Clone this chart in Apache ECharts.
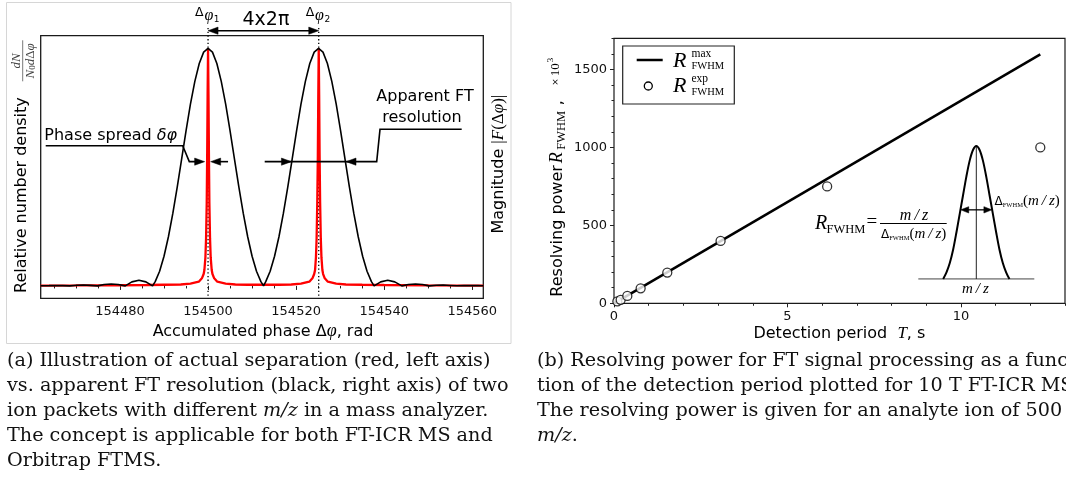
<!DOCTYPE html>
<html>
<head>
<meta charset="utf-8">
<title>FT resolution</title>
<script src="https://cdn.jsdelivr.net/npm/echarts@6.0.0/dist/echarts.min.js"></script>
<style>
html,body{margin:0;padding:0;background:#ffffff;}
#main{width:1066px;height:503px;}
</style>
</head>
<body>
<div id="main"></div>
<script>
// ---------------- Panel (a) data ----------------
const phaseTickLabels = [154480, 154500, 154520, 154540, 154560];
const phaseMinorTicks = [154465,154470,154475,154480,154485,154490,154495,154500,154505,154510,
  154515,154520,154525,154530,154535,154540,154545,154550,154555,154560];
const peakPhases = [154500, 154525.13];
// black curve: apparent FT magnitude |F(dphi)| (right axis)
const magnitudeFT = [
  [154462.0,0.001],[154463.9,0.0015],[154465.4,0.002],[154467.0,0.0015],[154468.6,0.0003],
  [154470.2,0.003],[154471.7,0.0037],[154473.3,0.0025],[154474.9,0.0003],[154476.4,0.006],
  [154478.0,0.008],[154479.6,0.006],[154481.2,0.0003],[154482.7,0.017],[154484.3,0.024],
  [154485.9,0.017],[154487.4,0.0],
  [154488,0.018],[154489,0.062],[154490,0.125],[154491,0.207],[154492,0.305],[154493,0.416],
  [154494,0.534],[154495,0.653],[154496,0.765],[154497,0.861],[154498,0.936],[154499,0.984],
  [154500,1.0],[154501,0.984],[154502,0.936],[154503,0.861],[154504,0.765],[154505,0.653],
  [154506,0.534],[154507,0.416],[154508,0.305],[154509,0.207],[154510,0.125],[154511,0.062],
  [154512,0.018],[154512.6,0.0],
  [154513.1,0.018],[154514.1,0.062],[154515.1,0.125],[154516.1,0.207],[154517.1,0.305],
  [154518.1,0.416],[154519.1,0.534],[154520.1,0.653],[154521.1,0.765],[154522.1,0.861],
  [154523.1,0.936],[154524.1,0.984],[154525.1,1.0],[154526.1,0.984],[154527.1,0.936],
  [154528.1,0.861],[154529.1,0.765],[154530.1,0.653],[154531.1,0.534],[154532.1,0.416],
  [154533.1,0.305],[154534.1,0.207],[154535.1,0.125],[154536.1,0.062],[154537.1,0.018],
  [154537.7,0.0],
  [154539.2,0.017],[154540.8,0.024],[154542.4,0.017],[154544.0,0.0003],[154545.5,0.006],
  [154547.1,0.008],[154548.7,0.006],[154550.2,0.0003],[154551.8,0.003],[154553.4,0.0037],
  [154555.0,0.002],[154556.5,0.0005],[154558.1,0.0015],[154559.7,0.002],[154561.3,0.0015],
  [154562.5,0.0005]
];
// red curve: relative number density (left axis)
const numberDensity = [
  [154462,0.0015],[154470,0.002],[154480,0.003],[154486,0.004],[154490,0.005],[154493.8,0.006],
  [154496,0.01],[154497.9,0.018],[154498.6,0.032],[154499.0,0.05],[154499.17,0.067],
  [154499.4,0.12],[154499.55,0.2],[154499.7,0.35],[154499.8,0.55],[154499.9,0.8],[154500,1.0],
  [154500.1,0.8],[154500.2,0.55],[154500.3,0.35],[154500.45,0.2],[154500.6,0.12],
  [154500.83,0.067],[154501.0,0.05],[154501.4,0.032],[154502.1,0.018],[154504,0.01],
  [154506.2,0.006],[154509,0.005],[154512.5,0.005],[154516.1,0.005],[154518.9,0.006],
  [154521.1,0.01],[154523.0,0.018],[154523.7,0.032],[154524.1,0.05],[154524.3,0.067],
  [154524.5,0.12],[154524.65,0.2],[154524.8,0.35],[154524.93,0.55],[154525.03,0.8],[154525.13,1.0],
  [154525.23,0.8],[154525.33,0.55],[154525.45,0.35],[154525.6,0.2],[154525.75,0.12],
  [154525.96,0.067],[154526.13,0.05],[154526.5,0.032],[154527.2,0.018],[154529.1,0.01],
  [154531.3,0.006],[154535,0.005],[154540,0.004],[154550,0.0025],[154562.5,0.0015]
];

// ---------------- Panel (b) data ----------------
const periodTickLabels = [0, 5, 10];
const periodMinorTicks = [0,1,2,3,4,5,6,7,8,9,10,11,12,13];
const powerTickLabels = [0, 500, 1000, 1500];
const powerMinorTicks = [0,100,200,300,400,500,600,700,800,900,1000,1100,1200,1300,1400,1500,1600,1700];
const rMaxPeriod = [0, 12.288];
const rMaxPower = [0, 1597];
const rExpPeriod = [0.096, 0.192, 0.384, 0.768, 1.536, 3.072, 6.144, 12.288];
const rExpPower = [12, 22, 47, 96, 197, 400, 750, 1000];
// inset peak sketch
const insetX = [-1,-0.9,-0.8,-0.7,-0.6,-0.5,-0.4,-0.3,-0.2,-0.1,0,0.1,0.2,0.3,0.4,0.5,0.6,0.7,0.8,0.9,1];
const insetY = [0,0.05,0.12,0.22,0.35,0.49,0.63,0.77,0.89,0.97,1,0.97,0.89,0.77,0.63,0.49,0.35,0.22,0.12,0.05,0];
const insetBase = [-1.75, 1.75];

// ---------------- Captions ----------------
const captionA = [
  '(a) Illustration of actual separation (red, left axis)',
  'vs. apparent FT resolution (black, right axis) of two',
  'ion packets with different {i|m/z} in a mass analyzer.',
  'The concept is applicable for both FT-ICR MS and',
  'Orbitrap FTMS.'
];
const captionB = [
  '(b) Resolving power for FT signal processing as a func-',
  'tion of the detection period plotted for 10 T FT-ICR MS.',
  'The resolving power is given for an analyte ion of 500',
  '{i|m/z}.'
];

const SANS = 'DejaVu Sans';
const SERIF = 'Liberation Serif';
const CAPF = 'DejaVu Serif';
const TICKC = '#222';

function tickAxis(gi, min, max, values, len, withLabels, pos) {
  return {
    type: 'value', gridIndex: gi, min: min, max: max, position: pos,
    axisLine: {show: false}, splitLine: {show: false},
    axisTick: {show: true, customValues: values, length: len, lineStyle: {color: TICKC, width: 1}},
    axisLabel: withLabels ? {show: true, customValues: values, fontFamily: SANS, fontSize: 13, color: '#111', margin: 7,
                             formatter: function (v) { return String(v); }}
                          : {show: false}
  };
}

const chart = echarts.init(document.getElementById('main'), null, {renderer: 'canvas'});

const option = {
  animation: false,
  backgroundColor: '#ffffff',
  grid: [
    {left: 40.7, top: 35.7, width: 442.6, height: 262.6, show: true, borderColor: '#1a1a1a', borderWidth: 1.3, backgroundColor: 'transparent'},
    {left: 614, top: 38.3, width: 451, height: 265, show: true, borderColor: '#1a1a1a', borderWidth: 1.2, backgroundColor: 'transparent'},
    {left: 918.3, top: 146, width: 116, height: 133, show: false}
  ],
  xAxis: [
    tickAxis(0, 154462, 154562.5, phaseTickLabels, 4, true, 'bottom'),
    tickAxis(0, 154462, 154562.5, phaseMinorTicks, 2.5, false, 'bottom'),
    tickAxis(1, 0, 13, periodTickLabels, 4, true, 'bottom'),
    tickAxis(1, 0, 13, periodMinorTicks, 2.5, false, 'bottom'),
    {type: 'value', gridIndex: 2, min: -1.75, max: 1.75, show: false}
  ],
  yAxis: [
    {type: 'value', gridIndex: 0, min: -0.052, max: 1.053, show: false, position: 'left'},
    {type: 'value', gridIndex: 0, min: -0.052, max: 1.053, show: false, position: 'right'},
    tickAxis(1, 0, 1700, powerTickLabels, 4, true, 'left'),
    tickAxis(1, 0, 1700, powerMinorTicks, 2.5, false, 'left'),
    {type: 'value', gridIndex: 2, min: 0, max: 1, show: false}
  ],
  series: [
    {type: 'line', name: 'density', xAxisIndex: 0, yAxisIndex: 0, data: numberDensity, showSymbol: false,
     lineStyle: {color: '#ff0000', width: 2.3}, z: 4, silent: true},
    {type: 'line', name: 'magnitude', xAxisIndex: 0, yAxisIndex: 1, data: magnitudeFT, showSymbol: false,
     lineStyle: {color: '#000000', width: 1.6}, z: 5, silent: true},
    {type: 'line', name: 'Rmax', xAxisIndex: 2, yAxisIndex: 2,
     data: rMaxPeriod.map((t, i) => [t, rMaxPower[i]]), showSymbol: false,
     lineStyle: {color: '#000000', width: 2.5}, z: 4, silent: true},
    {type: 'scatter', name: 'Rexp', xAxisIndex: 2, yAxisIndex: 2,
     data: rExpPeriod.map((t, i) => [t, rExpPower[i]]), symbol: 'circle', symbolSize: 9, clip: false,
     itemStyle: {color: '#ffffff', borderColor: '#000000', borderWidth: 1.3}, z: 6, silent: true},
    {type: 'line', name: 'insetPeak', xAxisIndex: 4, yAxisIndex: 4,
     data: insetX.map((x, i) => [x, insetY[i]]), showSymbol: false, smooth: 0.3,
     lineStyle: {color: '#000000', width: 2}, z: 5, silent: true},
    {type: 'line', name: 'insetBase', xAxisIndex: 4, yAxisIndex: 4,
     data: insetBase.map(x => [x, 0]), showSymbol: false,
     lineStyle: {color: '#707070', width: 1.5}, z: 4, silent: true},
    {type: 'line', name: 'insetCenter', xAxisIndex: 4, yAxisIndex: 4,
     data: [[0, 0], [0, 1]], showSymbol: false,
     lineStyle: {color: '#222222', width: 1}, z: 4, silent: true}
  ]
};
chart.setOption(option);

// ---------------- annotations ----------------
function T(x, y, text, st, extra) {
  return Object.assign({type: 'text', x: x, y: y, z: 20, silent: true,
    style: Object.assign({text: text, fill: '#000', fontFamily: SANS, fontSize: 16, align: 'left', verticalAlign: 'middle'}, st || {})},
    extra || {});
}
function L(pts, lw, st) {
  return {type: 'polyline', z: 20, silent: true, shape: {points: pts},
    style: Object.assign({stroke: '#000', lineWidth: lw || 1.6, fill: null}, st || {})};
}
function head(tx, ty, dir, len, hw) {
  len = len || 10; hw = hw || 3.6;
  return {type: 'polygon', z: 21, silent: true,
    shape: {points: [[tx, ty], [tx - dir * len, ty - hw], [tx - dir * len, ty + hw]]},
    style: {fill: '#000', stroke: '#000', lineWidth: 0.5}};
}
const P = (xi, yi, v) => chart.convertToPixel({xAxisIndex: xi, yAxisIndex: yi}, v);

const G = [];
// panel (a) frame
G.push({type: 'rect', z: 0, silent: true, shape: {x: 6.5, y: 2.5, width: 504.5, height: 341},
  style: {fill: null, stroke: '#d6d6d6', lineWidth: 1}});

const x1 = P(0, 1, [peakPhases[0], 0])[0];
const x2 = P(0, 1, [peakPhases[1], 0])[0];
const yBottom = P(0, 1, [peakPhases[0], -0.052])[1];
const yHalf = P(0, 1, [peakPhases[0], 0.523])[1];
const halfL = P(0, 1, [peakPhases[1] - 6.2, 0])[0];
const halfR = P(0, 1, [peakPhases[1] + 6.2, 0])[0];

// dotted peak markers
[x1, x2].forEach(function (x) {
  G.push({type: 'line', z: 1, silent: true, shape: {x1: x, y1: 28, x2: x, y2: yBottom},
    style: {stroke: '#000', lineWidth: 1.3, lineDash: [1.3, 2.4]}});
});
// delta phi labels
[[x1, '1'], [x2, '2']].forEach(function (a) {
  G.push(T(a[0] - 8.7, 12.5, 'Δ', {fontSize: 12.5, align: 'center'}));
  G.push(T(a[0] + 0.8, 15.5, 'φ', {fontSize: 16, fontFamily: SERIF, fontStyle: 'italic', align: 'center'}));
  G.push(T(a[0] + 8.6, 20, a[1], {fontSize: 9, align: 'center'}));
});
// 4x2pi arrow
G.push(T((x1 + x2) / 2 + 2.5, 20, '4x2π', {fontSize: 19, align: 'center'}));
G.push(L([[x1 + 8, 30.7], [x2 - 8, 30.7]], 1.6));
G.push(head(x1, 30.7, -1));
G.push(head(x2, 30.7, 1));

// phase spread annotation
G.push(T(44.3, 135.5, '{a|Phase spread }{b|δφ}', {rich: {
  a: {fontFamily: SANS, fontSize: 16, fill: '#000'},
  b: {fontFamily: SANS, fontSize: 16, fontStyle: 'italic', fill: '#000'}}}));
G.push(L([[45.7, 145.7], [182.7, 145.7], [189.3, yHalf], [x1 - 10, yHalf]], 1.6));
G.push(head(x1 - 3.4, yHalf, 1));
G.push(L([[x1 + 20, yHalf], [x1 + 10, yHalf]], 1.6));
G.push(head(x1 + 2.6, yHalf, -1));

// apparent FT resolution annotation
G.push(T(425, 97.3, 'Apparent FT', {align: 'center'}));
G.push(T(422, 117.7, 'resolution', {align: 'center'}));
G.push(L([[461.7, 129.3], [380, 129.3], [376.7, yHalf], [264.7, yHalf]], 1.6));
G.push(head(halfL, yHalf, 1));
G.push(head(halfR, yHalf, -1));

// axis titles (a)
G.push(T(263, 331.7, '{s|Accumulated phase Δ}{m|φ}{s|, rad}', {align: 'center', rich: {
  s: {fontFamily: SANS, fontSize: 16, fill: '#000'},
  m: {fontFamily: SERIF, fontSize: 18, fontStyle: 'italic', fill: '#000'}}}));
G.push(T(21.5, 293, 'Relative number density', {fontSize: 16}, {rotation: Math.PI / 2}));
G.push({type: 'group', x: 22.7, y: 60.8, rotation: Math.PI / 2, z: 20, silent: true, children: [
  T(0, -6.3, 'dN', {fontFamily: SERIF, fontStyle: 'italic', fontSize: 13, fill: '#444', align: 'center'}),
  {type: 'line', z: 20, shape: {x1: -20.5, y1: 0, x2: 20.5, y2: 0}, style: {stroke: '#555', lineWidth: 0.8}},
  T(0, 8.3, '{i|N}{s|0}{i|d}{u|Δ}{i|φ}', {align: 'center', fill: '#444', rich: {
    i: {fontFamily: SERIF, fontStyle: 'italic', fontSize: 13, fill: '#444'},
    s: {fontFamily: SERIF, fontSize: 9, fill: '#444', verticalAlign: 'bottom'},
    u: {fontFamily: SERIF, fontSize: 13, fill: '#444'}}})
]});
G.push(T(498.6, 233.5, '{s|Magnitude }{m||}{i|F}{m|(Δ}{i|φ}{m|)|}', {rich: {
  s: {fontFamily: SANS, fontSize: 16, fill: '#000'},
  m: {fontFamily: SERIF, fontSize: 17, fill: '#000'},
  i: {fontFamily: SERIF, fontSize: 17, fontStyle: 'italic', fill: '#000'}}}, {rotation: Math.PI / 2}));

// ---------- panel (b) annotations ----------
// legend
G.push({type: 'rect', z: 18, silent: true, shape: {x: 622.7, y: 46, width: 111.6, height: 58},
  style: {fill: '#fff', stroke: '#222', lineWidth: 1.2}});
G.push(L([[636.7, 60], [662.7, 60]], 2.5));
G.push({type: 'circle', z: 20, silent: true, shape: {cx: 648.3, cy: 86, r: 4},
  style: {fill: '#fff', stroke: '#000', lineWidth: 1.3}});
[[61.5, 'max'], [86.7, 'exp']].forEach(function (r) {
  G.push(T(673, r[0], 'R', {fontFamily: SERIF, fontStyle: 'italic', fontSize: 22}));
  G.push(T(691.5, r[0] - 7.3, r[1], {fontFamily: SERIF, fontSize: 11.5}));
  G.push(T(691.5, r[0] + 5.2, 'FWHM', {fontFamily: SERIF, fontSize: 10.5}));
});
// y title (b)
G.push({type: 'group', x: 557.4, y: 296.7, rotation: Math.PI / 2, z: 20, silent: true, children: [
  T(0, 0, 'Resolving power', {fontSize: 16}),
  T(133.5, -0.5, 'R', {fontFamily: SERIF, fontStyle: 'italic', fontSize: 18}),
  T(147, 4.5, 'FWHM', {fontFamily: SERIF, fontSize: 12.5}),
  T(191.5, 0, ',', {fontSize: 16}),
  T(211, -2, '×', {fontSize: 9}),
  T(220.5, -1.5, '10', {fontFamily: SERIF, fontSize: 13}),
  T(234.5, -7, '3', {fontFamily: SERIF, fontSize: 9})
]});
// x title (b)
G.push(T(839.4, 334, '{s|Detection period  }{i|T}{s|, s}', {align: 'center', rich: {
  s: {fontFamily: SANS, fontSize: 16, fill: '#000'},
  i: {fontFamily: SERIF, fontSize: 17, fontStyle: 'italic', fill: '#000'}}}));

// inset annotations
const yA = P(4, 4, [0, 0.52])[1];
const xAl = P(4, 4, [-0.47, 0.52])[0];
const xAr = P(4, 4, [0.47, 0.52])[0];
G.push(L([[xAl + 7, yA], [xAr - 7, yA]], 1.3));
G.push(head(xAl, yA, -1, 8, 3.2));
G.push(head(xAr, yA, 1, 8, 3.2));
const deltaRich = {
  d: {fontFamily: SANS, fontSize: 12, fill: '#000'},
  f: {fontFamily: SERIF, fontSize: 6.5, fill: '#000', verticalAlign: 'bottom'},
  p: {fontFamily: SERIF, fontSize: 15, fill: '#000'},
  m: {fontFamily: SERIF, fontSize: 15, fontStyle: 'italic', fill: '#000'}
};
G.push(T(994.5, 201.5, '{d|Δ}{f|FWHM}{p|(}{m|m\u2009/\u2009z}{p|)}', {rich: deltaRich}));
G.push(T(815, 223.3, 'R', {fontFamily: SERIF, fontStyle: 'italic', fontSize: 20}));
G.push(T(826.5, 229.5, 'FWHM', {fontFamily: SERIF, fontSize: 12.5}));
G.push(T(866.5, 222.5, '=', {fontFamily: SERIF, fontSize: 19}));
G.push(T(914, 216, 'm\u2009/\u2009z', {fontFamily: SERIF, fontStyle: 'italic', fontSize: 16, align: 'center'}));
G.push({type: 'line', z: 20, silent: true, shape: {x1: 880, y1: 223.5, x2: 946.7, y2: 223.5}, style: {stroke: '#000', lineWidth: 1}});
G.push(T(881, 234.5, '{d|Δ}{f|FWHM}{p|(}{m|m\u2009/\u2009z}{p|)}', {rich: deltaRich}));
G.push(T(975.3, 289.3, 'm\u2009/\u2009z', {fontFamily: SERIF, fontStyle: 'italic', fontSize: 15, align: 'center'}));

// captions
const capRich = {i: {fontFamily: CAPF, fontStyle: 'italic', fontSize: 19.2, fill: '#111'}};
captionA.forEach(function (line, i) {
  G.push(T(7, 361 + 25 * i, line, {fontFamily: CAPF, fontSize: 19.2, fill: '#111', rich: capRich}));
});
captionB.forEach(function (line, i) {
  G.push(T(537, 361 + 25 * i, line, {fontFamily: CAPF, fontSize: 19.2, fill: '#111', rich: capRich}));
});

chart.setOption({graphic: G});
</script>
</body>
</html>
